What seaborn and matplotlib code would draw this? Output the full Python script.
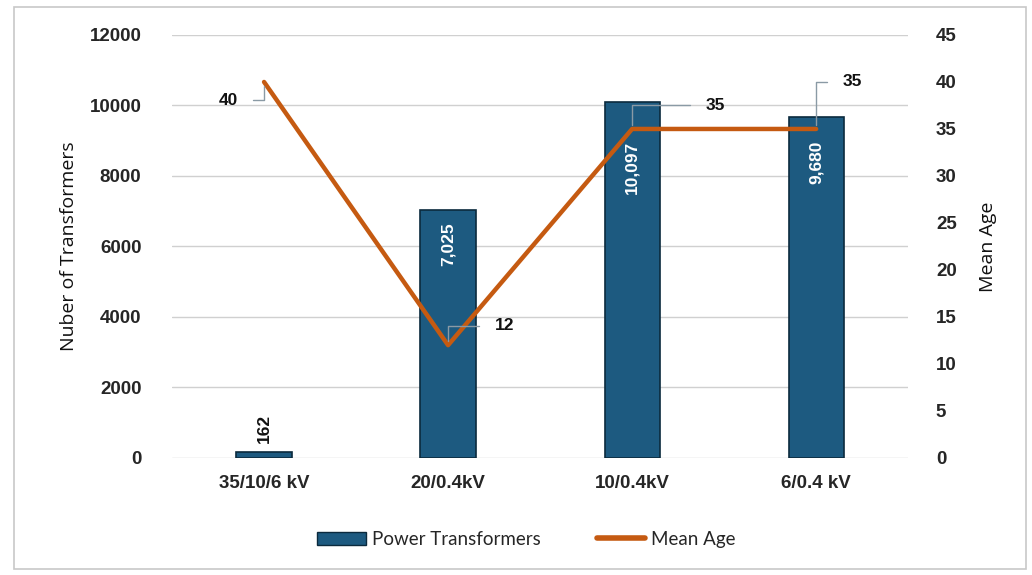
import matplotlib
matplotlib.use("Agg")
import matplotlib.pyplot as plt
import numpy as np
import pandas as pd
import seaborn as sns
from matplotlib.lines import Line2D
from matplotlib.patches import Patch, Rectangle

# data
categories = ["35/10/6 kV", "20/0.4kV", "10/0.4kV", "6/0.4 kV"]
transformers = [162, 7025, 10097, 9680]
mean_age = [40, 12, 35, 35]

BAR_COLOR = "#1d5a80"
BAR_EDGE = "#0b2a3d"
LINE_COLOR = "#c55a11"

sns.set_theme(style="white")
plt.rcParams["font.family"] = ["Liberation Sans", "DejaVu Sans"]

df = pd.DataFrame({"voltage": categories, "count": transformers, "age": mean_age})

fig = plt.figure(figsize=(10.32, 5.75), dpi=100)
ax = fig.add_axes([0.1667, 0.2035, 0.7133, 0.7357])

sns.barplot(data=df, x="voltage", y="count", color=BAR_COLOR, width=0.30,
            edgecolor=BAR_EDGE, linewidth=1.2, saturation=1, ax=ax, zorder=2)
ax.set_ylim(0, 12000)
ax.set_yticks(np.arange(0, 12001, 2000))
ax.yaxis.grid(True, color="#d0d0d0", linewidth=1, zorder=0)
ax.set_axisbelow(True)
for s in ax.spines.values():
    s.set_visible(False)
ax.tick_params(axis="y", length=0, labelsize=13.5, pad=22)
ax.tick_params(axis="x", length=0, labelsize=13.5, pad=12)
for lbl in ax.get_yticklabels() + ax.get_xticklabels():
    lbl.set_fontweight("bold")
ax.set_xlabel("")
ax.set_ylabel("Nuber of Transformers", fontsize=14, labelpad=8,
              family=["Open Sans", "DejaVu Sans"], color="#111111")

# bar value labels (rotated)
for i, v in enumerate(transformers):
    txt = f"{v:,}"
    if v < 1000:
        ax.text(i, v + 250, txt, rotation=90, ha="center", va="bottom",
                fontsize=12.5, fontweight="bold", color="#111111")
    else:
        ax.text(i, min(v - 330, 9000), txt, rotation=90, ha="center", va="top",
                fontsize=12.5, fontweight="bold", color="white")

# mean age line on the secondary axis
ax2 = ax.twinx()
sns.lineplot(data=df, x="voltage", y="age", color=LINE_COLOR, linewidth=3.2,
             ax=ax2, zorder=3)
ax2.set_ylim(0, 45)
ax2.set_yticks(np.arange(0, 46, 5))
ax2.grid(False)
for s in ax2.spines.values():
    s.set_visible(False)
ax2.tick_params(axis="y", length=0, labelsize=13.5, pad=20)
for lbl in ax2.get_yticklabels():
    lbl.set_fontweight("bold")
ax2.set_ylabel("Mean Age", fontsize=14, labelpad=16,
               family=["Open Sans", "DejaVu Sans"], color="#111111")
ax2.set_xlabel("")
ax.set_xlim(-0.5, 3.5)
ax2.set_xlim(-0.5, 3.5)

# age labels with leader lines (offsets in points)
offsets = [(-26, -13), (41, 14), (60, 17), (26, 34)]
for i, (a, off) in enumerate(zip(mean_age, offsets)):
    ax2.annotate(str(a), xy=(i, a), xytext=off, textcoords="offset points",
                 ha="center", va="center", fontsize=12.5, fontweight="bold",
                 color="#111111",
                 arrowprops=dict(arrowstyle="-", color="#8a9aa5", lw=1,
                                 shrinkA=9, shrinkB=3,
                                 connectionstyle="angle,angleA=0,angleB=90,rad=0"))

handles = [Patch(facecolor=BAR_COLOR, edgecolor=BAR_EDGE, label="Power Transformers"),
           Line2D([0], [0], color=LINE_COLOR, lw=4, label="Mean Age")]
fig.legend(handles=handles, loc="center", bbox_to_anchor=(0.51, 0.062), ncol=2,
           frameon=False, prop={"family": ["Lato", "DejaVu Sans"], "size": 13.5},
           handlelength=2.6, columnspacing=3, handletextpad=0.3)

fig.patches.append(Rectangle((0.014, 0.01), 0.98, 0.978, transform=fig.transFigure,
                             fill=False, edgecolor="#c8c8c8", linewidth=1.2))

fig.savefig("out.png", dpi=100)
